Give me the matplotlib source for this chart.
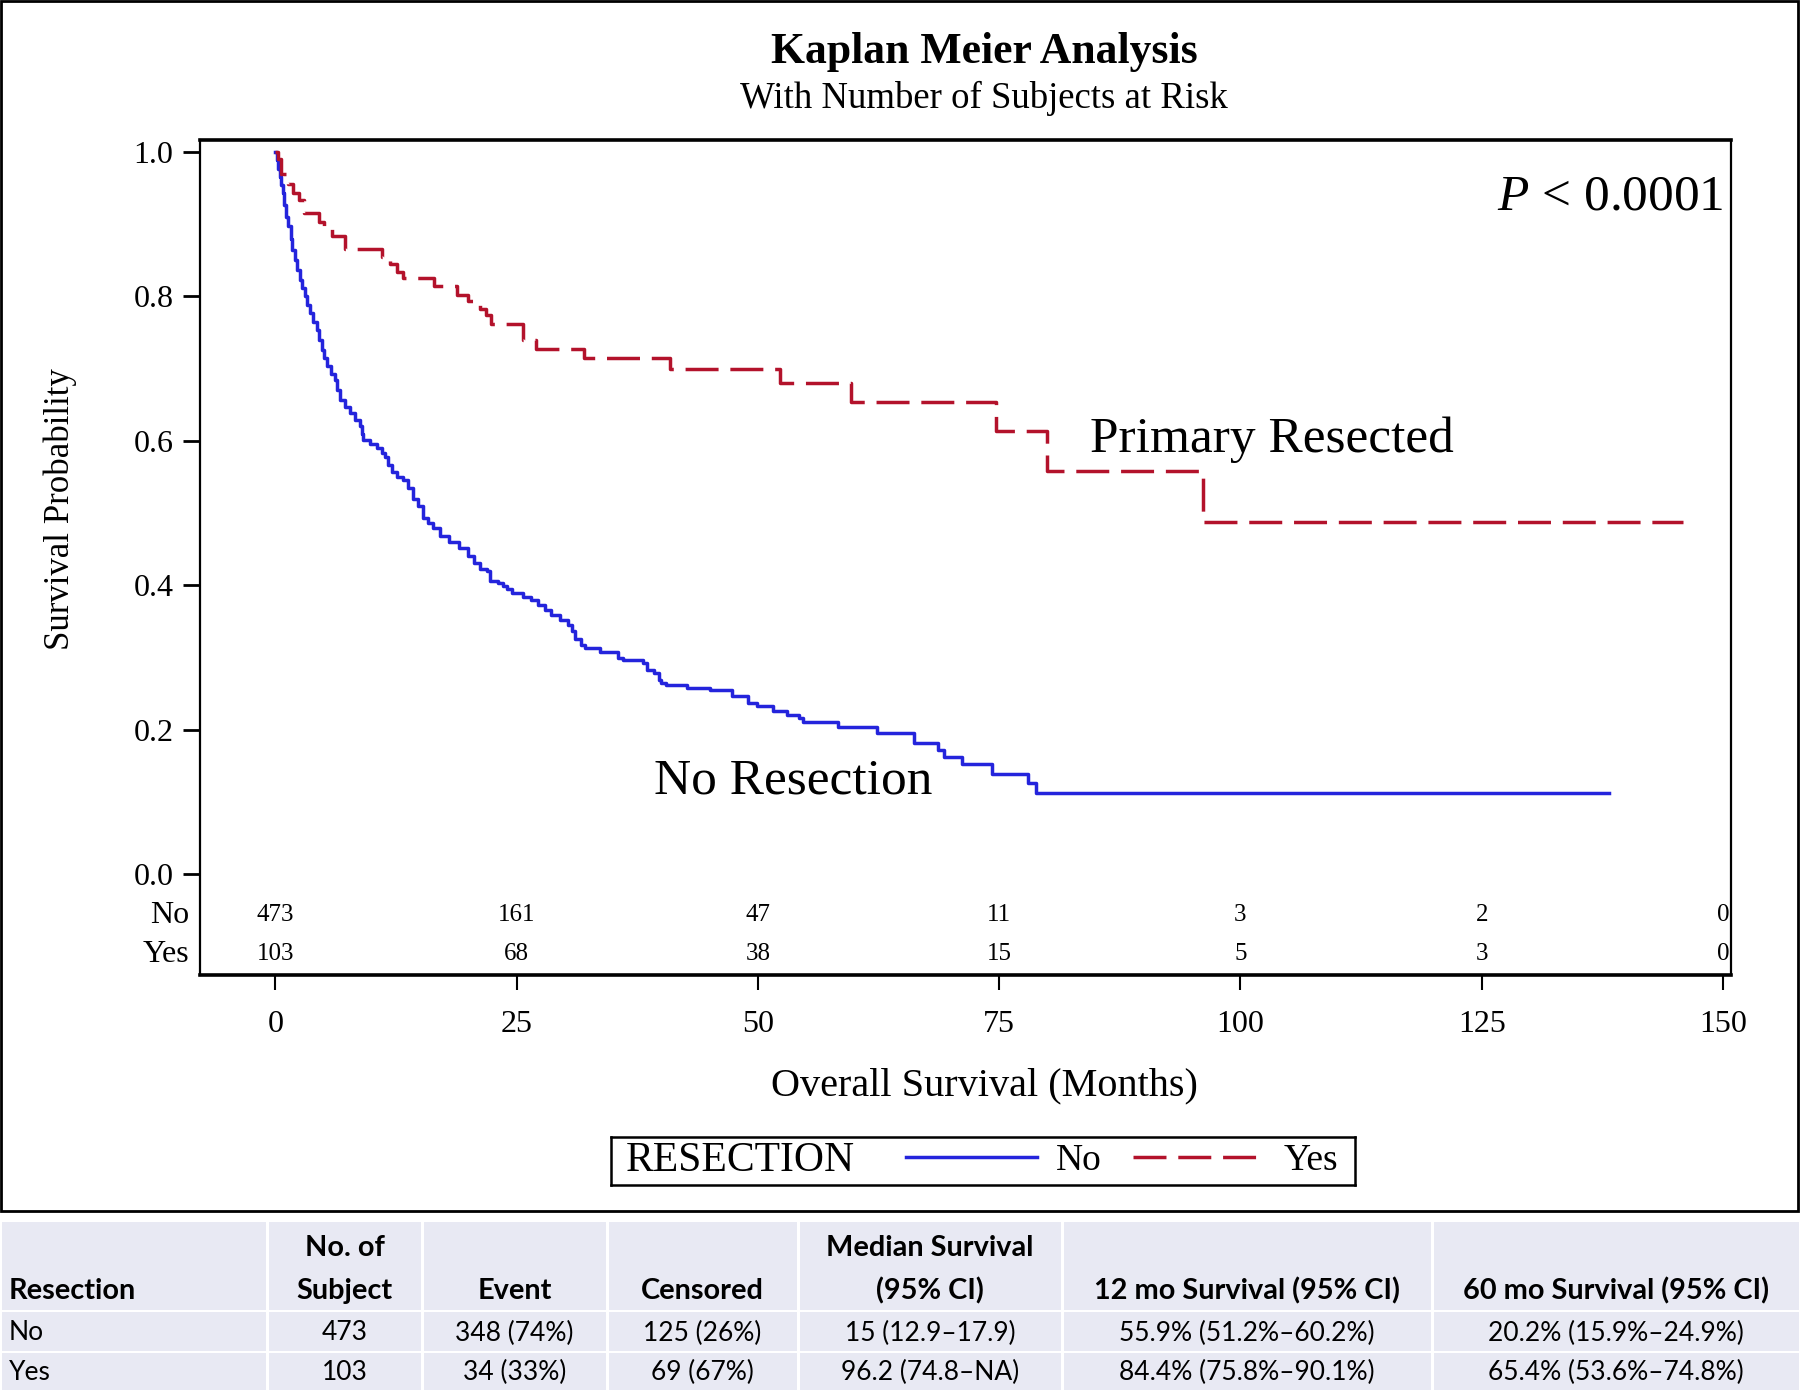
import matplotlib
matplotlib.use("Agg")
import matplotlib.pyplot as plt
import matplotlib.transforms as mtransforms
from matplotlib.patches import Rectangle
from matplotlib.lines import Line2D

# Kaplan-Meier step points (months, survival probability)
t_no = [0, 0.12, 0.29, 0.47, 0.57, 0.74, 0.88, 1.09, 1.33, 1.57, 1.74, 2.02, 2.26,
        2.54, 2.78, 3.06, 3.30, 3.57, 3.92, 4.27, 4.54, 4.79, 5.06, 5.3, 5.72, 6.17,
        6.41, 6.68, 7.2, 7.72, 8.24, 8.76, 8.93, 9.1, 9.79, 10.48, 11.0, 11.35, 11.69,
        12.04, 12.56, 13.24, 13.76, 14.28, 14.8, 15.3, 15.8, 16.35, 17.0, 18.0, 19.0,
        20.0, 20.6, 21.2, 21.9, 22.2, 23.1, 23.6, 24.0, 24.5, 25.7, 26.5, 27.2, 27.9,
        28.6, 29.5, 30.3, 30.7, 31.0, 31.7, 32.1, 33.6, 35.5, 36.0, 38.1, 38.5, 39.2,
        39.7, 40.0, 40.5, 42.6, 45.0, 47.3, 49.0, 49.9, 51.6, 53.0, 54.2, 54.7, 58.3,
        62.3, 66.2, 68.7, 69.3, 71.1, 74.2, 78.0, 78.8, 138.2]
s_no = [1.0, 0.989, 0.977, 0.966, 0.954, 0.943, 0.927, 0.910, 0.897, 0.880, 0.864,
        0.850, 0.837, 0.823, 0.811, 0.800, 0.788, 0.777, 0.765, 0.753, 0.740, 0.726,
        0.714, 0.703, 0.693, 0.684, 0.670, 0.657, 0.647, 0.638, 0.629, 0.620, 0.610,
        0.601, 0.596, 0.590, 0.583, 0.578, 0.566, 0.557, 0.550, 0.546, 0.534, 0.520,
        0.510, 0.493, 0.486, 0.479, 0.468, 0.460, 0.452, 0.440, 0.430, 0.422, 0.419,
        0.406, 0.403, 0.399, 0.394, 0.389, 0.384, 0.379, 0.373, 0.366, 0.359, 0.352,
        0.345, 0.336, 0.325, 0.317, 0.313, 0.307, 0.299, 0.296, 0.292, 0.283, 0.278,
        0.269, 0.265, 0.262, 0.258, 0.255, 0.246, 0.237, 0.232, 0.226, 0.220, 0.216,
        0.210, 0.204, 0.195, 0.181, 0.172, 0.162, 0.152, 0.139, 0.126, 0.112, 0.112]

t_yes = [0, 0.3, 0.6, 1.3, 1.8, 2.4, 3.0, 4.5, 5.0, 5.9, 7.2, 11.0, 11.9, 12.6,
         13.2, 16.4, 18.8, 20.0, 21.2, 21.8, 22.3, 25.6, 27.0, 32.0, 40.9, 52.3,
         59.6, 74.7, 79.9, 96.1, 145.9]
s_yes = [1.0, 0.99, 0.97, 0.955, 0.943, 0.933, 0.915, 0.903, 0.894, 0.884, 0.865,
         0.855, 0.845, 0.834, 0.825, 0.815, 0.802, 0.794, 0.783, 0.774, 0.762, 0.740,
         0.727, 0.715, 0.700, 0.680, 0.654, 0.614, 0.558, 0.488, 0.488]

risk_times = [0, 25, 50, 75, 100, 125, 150]
risk_no = [473, 161, 47, 11, 3, 2, 0]
risk_yes = [103, 68, 38, 15, 5, 3, 0]

header_top = ["", "No. of", "", "", "Median Survival", "", ""]
header_bottom = ["Resection", "Subject", "Event", "Censored", "(95% CI)",
                 "12 mo Survival (95% CI)", "60 mo Survival (95% CI)"]
row_no = ["No", "473", "348 (74%)", "125 (26%)", "15 (12.9–17.9)",
          "55.9% (51.2%–60.2%)", "20.2% (15.9%–24.9%)"]
row_yes = ["Yes", "103", "34 (33%)", "69 (67%)", "96.2 (74.8–NA)",
           "84.4% (75.8%–90.1%)", "65.4% (53.6%–74.8%)"]

plt.rcParams['font.family'] = ['Liberation Serif', 'DejaVu Serif']
plt.rcParams['mathtext.fontset'] = 'custom'
plt.rcParams['mathtext.rm'] = 'Liberation Serif'
plt.rcParams['mathtext.it'] = 'Liberation Serif:italic'

blue = '#2424dc'
red = '#b3122b'
lw = 2.5
dash = (9.5, 3.4)

W, H = 1800, 1390
fig = plt.figure(figsize=(18, 13.9), dpi=100)


def fx(px):
    return px / W


def fy(py):
    return 1 - py / H


# outer frame of the graph part
fig.patches.append(Rectangle((fx(1), fy(1211)), fx(1797), fy(1) - fy(1211), fill=False,
                             edgecolor='black', lw=2, transform=fig.transFigure))

ax = fig.add_axes([fx(200), fy(975), fx(1731) - fx(200), fy(140) - fy(975)])
ax.step(t_no, s_no, where='post', color=blue, lw=lw)
ax.step(t_yes, s_yes, where='post', color=red, lw=lw, dashes=dash)
ax.set_xlim(-7.82, 150.83)
ax.set_ylim(-0.14, 1.0166)
ax.set_xticks(risk_times)
ax.set_yticks([0, 0.2, 0.4, 0.6, 0.8, 1.0])
ax.set_yticklabels(['0.0', '0.2', '0.4', '0.6', '0.8', '1.0'])
ax.tick_params(axis='y', direction='out', length=12, width=2, pad=7, labelsize=23)
ax.tick_params(axis='x', direction='out', length=11, width=1.5, pad=14, labelsize=23)
for side in ['left', 'right']:
    ax.spines[side].set_linewidth(1.6)
for side in ['top', 'bottom']:
    ax.spines[side].set_linewidth(2.6)

# number at risk
trans = mtransforms.blended_transform_factory(ax.transAxes, ax.transData)
for y, lab, counts in [(-0.057, 'No', risk_no), (-0.111, 'Yes', risk_yes)]:
    ax.text(-0.007, y, lab, transform=trans, ha='right', va='center', fontsize=23)
    for t, n in zip(risk_times, counts):
        ax.text(t, y, str(n), ha='center', va='center', fontsize=18)

ax.text(150.1, 0.937, '$P$ < 0.0001', ha='right', va='center', fontsize=37)
ax.text(84.4, 0.601, 'Primary Resected', ha='left', va='center', fontsize=37)
ax.text(39.2, 0.129, 'No Resection', ha='left', va='center', fontsize=37)

fig.text(fx(984), fy(52), 'Kaplan Meier Analysis', ha='center', va='center',
         fontsize=31.5, fontweight='bold')
fig.text(fx(984), fy(98), 'With Number of Subjects at Risk', ha='center', va='center',
         fontsize=26.5)
fig.text(fx(60), fy(509), 'Survival Probability', ha='center', va='center',
         rotation=90, fontsize=25)
fig.text(fx(984), fy(1086), 'Overall Survival (Months)', ha='center', va='center',
         fontsize=29)

# legend box
lax = fig.add_axes([fx(611), fy(1185), fx(1355) - fx(611), fy(1137) - fy(1185)])
lax.set_xticks([])
lax.set_yticks([])
for sp in lax.spines.values():
    sp.set_linewidth(1.8)
lax.text(0.02, 0.5, 'RESECTION', transform=lax.transAxes, ha='left', va='center',
         fontsize=30)
handles = [Line2D([], [], color=blue, lw=lw), Line2D([], [], color=red, lw=lw, dashes=dash)]
lax.legend(handles, ['No', 'Yes'], ncol=2, loc='center right', bbox_to_anchor=(0.992, 0.5),
           frameon=False, fontsize=27, handlelength=3.5, handletextpad=0.5,
           columnspacing=0.85, borderaxespad=0.0, borderpad=0.3)

# summary table under the graph
tax = fig.add_axes([0, 0, 1, fy(1211)])
tax.set_xlim(0, W)
tax.set_ylim(H, 1211)
tax.axis('off')
col_edges = [0, 267, 422, 607, 798, 1062, 1432, 1800]
row_edges = [(1222, 1310), (1312, 1351), (1353, 1390)]
cell_bg = '#e8e9f3'
for (y0, y1) in row_edges:
    for i in range(len(col_edges) - 1):
        tax.add_patch(Rectangle((col_edges[i] + 1.5, y0), col_edges[i + 1] - col_edges[i] - 3,
                                y1 - y0, facecolor=cell_bg, edgecolor='none'))

tfont = ['Lato', 'DejaVu Sans']
for i in range(len(col_edges) - 1):
    if i == 0:
        xpos, ha = 9, 'left'
    else:
        xpos, ha = (col_edges[i] + col_edges[i + 1]) / 2, 'center'
    if header_top[i]:
        tax.text(xpos, 1248, header_top[i], ha=ha, va='center', fontsize=20.8,
                 fontweight='bold', family=tfont)
    tax.text(xpos, 1291, header_bottom[i], ha=ha, va='center', fontsize=20.8,
             fontweight='bold', family=tfont)
    tax.text(xpos, 1333, row_no[i], ha=ha, va='center', fontsize=19, family=tfont)
    tax.text(xpos, 1372, row_yes[i], ha=ha, va='center', fontsize=19, family=tfont)

fig.savefig('out.png', dpi=100)
